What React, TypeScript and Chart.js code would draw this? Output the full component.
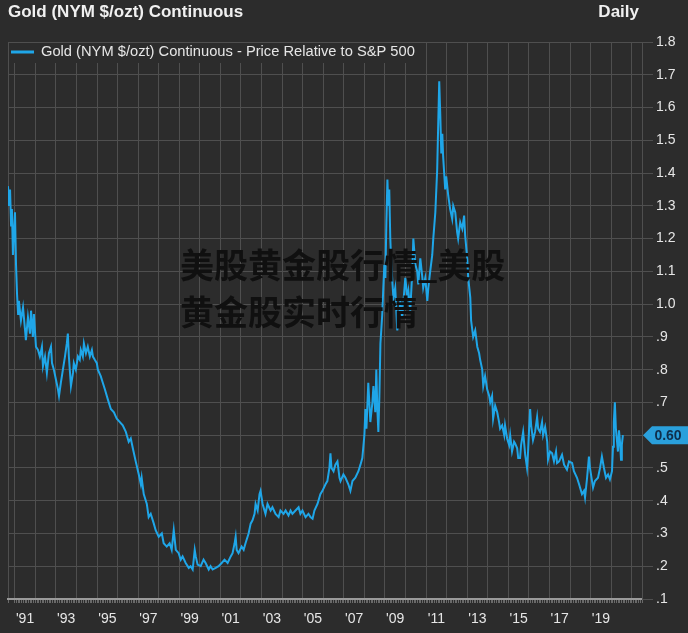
import { useEffect, useRef } from "react";
import { Chart, registerables } from "chart.js";

Chart.register(...registerables);

const chartTitle = "Gold (NYM $/ozt) Continuous";
const frequencyLabel = "Daily";
const seriesName = "Gold (NYM $/ozt) Continuous - Price Relative to S&P 500";
const watermarkLines = ["美股黄金股行情_美股", "黄金股实时行情"];

// decimal-year dates
const dates = [
  1990.67, 1990.72, 1990.77, 1990.82, 1990.86, 1990.91, 1990.96, 1991.01, 1991.06, 1991.11,
  1991.16, 1991.2, 1991.3, 1991.4, 1991.5, 1991.54, 1991.64, 1991.74, 1991.79, 1991.88,
  1991.93, 1992.03, 1992.13, 1992.22, 1992.32, 1992.37, 1992.47, 1992.56, 1992.66, 1992.76,
  1992.81, 1992.9, 1993.0, 1993.1, 1993.15, 1993.24, 1993.34, 1993.44, 1993.53, 1993.58,
  1993.63, 1993.73, 1993.83, 1993.87, 1993.97, 1994.07, 1994.16, 1994.21, 1994.31, 1994.36,
  1994.46, 1994.55, 1994.65, 1994.75, 1994.8, 1994.89, 1994.99, 1995.04, 1995.18, 1995.28,
  1995.38, 1995.52, 1995.67, 1995.82, 1995.96, 1996.11, 1996.25, 1996.4, 1996.54, 1996.64,
  1996.74, 1996.88, 1997.03, 1997.13, 1997.17, 1997.27, 1997.42, 1997.51, 1997.61, 1997.76,
  1997.85, 1998.0, 1998.15, 1998.24, 1998.39, 1998.53, 1998.63, 1998.73, 1998.83, 1998.97,
  1999.07, 1999.16, 1999.31, 1999.46, 1999.55, 1999.65, 1999.75, 1999.8, 1999.89, 2000.04,
  2000.18, 2000.28, 2000.43, 2000.52, 2000.62, 2000.77, 2000.91, 2001.06, 2001.2, 2001.35,
  2001.5, 2001.59, 2001.69, 2001.74, 2001.79, 2001.88, 2002.03, 2002.13, 2002.22, 2002.37,
  2002.47, 2002.56, 2002.66, 2002.71, 2002.81, 2002.9, 2002.95, 2003.05, 2003.19, 2003.29,
  2003.44, 2003.53, 2003.68, 2003.83, 2003.92, 2004.07, 2004.17, 2004.31, 2004.41, 2004.5,
  2004.65, 2004.8, 2004.89, 2004.99, 2005.14, 2005.28, 2005.38, 2005.48, 2005.57, 2005.72,
  2005.86, 2005.96, 2006.11, 2006.2, 2006.3, 2006.35, 2006.4, 2006.5, 2006.59, 2006.69,
  2006.79, 2006.84, 2006.98, 2007.08, 2007.22, 2007.32, 2007.42, 2007.56, 2007.71, 2007.81,
  2007.9, 2008.0, 2008.05, 2008.1, 2008.19, 2008.29, 2008.39, 2008.44, 2008.53, 2008.58,
  2008.63, 2008.68, 2008.73, 2008.78, 2008.87, 2008.92, 2008.97, 2009.02, 2009.07, 2009.12,
  2009.16, 2009.21, 2009.26, 2009.31, 2009.41, 2009.5, 2009.6, 2009.7, 2009.75, 2009.84,
  2009.99, 2010.09, 2010.14, 2010.23, 2010.33, 2010.38, 2010.48, 2010.57, 2010.62, 2010.72,
  2010.82, 2010.86, 2010.96, 2011.06, 2011.11, 2011.2, 2011.3, 2011.35, 2011.45, 2011.54,
  2011.59, 2011.64, 2011.69, 2011.74, 2011.79, 2011.83, 2011.88, 2011.93, 2011.98, 2012.08,
  2012.17, 2012.27, 2012.32, 2012.42, 2012.51, 2012.56, 2012.66, 2012.76, 2012.85, 2012.9,
  2013.0, 2013.05, 2013.15, 2013.19, 2013.29, 2013.39, 2013.49, 2013.58, 2013.63, 2013.73,
  2013.78, 2013.87, 2013.97, 2014.07, 2014.12, 2014.21, 2014.26, 2014.36, 2014.46, 2014.55,
  2014.6, 2014.7, 2014.8, 2014.84, 2014.94, 2015.04, 2015.09, 2015.18, 2015.28, 2015.33,
  2015.43, 2015.48, 2015.57, 2015.62, 2015.72, 2015.82, 2015.91, 2015.96, 2016.01, 2016.06,
  2016.11, 2016.2, 2016.3, 2016.4, 2016.45, 2016.54, 2016.64, 2016.69, 2016.79, 2016.89,
  2016.93, 2017.03, 2017.13, 2017.22, 2017.32, 2017.37, 2017.47, 2017.61, 2017.71, 2017.85,
  2017.95, 2018.1, 2018.19, 2018.34, 2018.44, 2018.58, 2018.68, 2018.73, 2018.83, 2018.92,
  2018.97, 2019.07, 2019.12, 2019.21, 2019.36, 2019.46, 2019.55, 2019.65, 2019.75, 2019.85,
  2019.94, 2020.04, 2020.09, 2020.13, 2020.18, 2020.23, 2020.28, 2020.33, 2020.38, 2020.43,
  2020.48, 2020.52, 2020.57,
];

// gold price relative to S&P 500
const ratio = [
  1.36, 1.3, 1.35, 1.24, 1.29, 1.15, 1.22, 1.28, 1.12, 1.03,
  0.97, 1.01, 0.95, 0.99, 0.92, 0.89, 0.96, 0.91, 0.98, 0.9,
  0.97, 0.87, 0.86, 0.84, 0.87, 0.81, 0.84, 0.79, 0.85, 0.87,
  0.82, 0.8, 0.77, 0.74, 0.72, 0.76, 0.8, 0.84, 0.88, 0.91,
  0.84, 0.75, 0.79, 0.82, 0.8, 0.84, 0.83, 0.86, 0.84, 0.88,
  0.85, 0.87, 0.84, 0.86, 0.84, 0.83, 0.82, 0.8, 0.78, 0.76,
  0.74, 0.71, 0.68, 0.67, 0.65, 0.64, 0.63, 0.61, 0.58, 0.59,
  0.56, 0.52, 0.48, 0.45, 0.47, 0.42, 0.39, 0.35, 0.36, 0.33,
  0.31, 0.29, 0.3, 0.27, 0.26, 0.27, 0.25, 0.31, 0.25, 0.24,
  0.22, 0.23, 0.21, 0.195, 0.2, 0.19, 0.25, 0.23, 0.205, 0.2,
  0.22, 0.21, 0.19, 0.2, 0.19, 0.195, 0.2, 0.21, 0.22, 0.21,
  0.23, 0.24, 0.27, 0.29, 0.25, 0.24, 0.26, 0.25, 0.27, 0.3,
  0.33, 0.34, 0.36, 0.39, 0.37, 0.42, 0.43, 0.39, 0.36, 0.39,
  0.37, 0.38, 0.36, 0.35, 0.37, 0.36, 0.37, 0.355, 0.37, 0.36,
  0.37, 0.38, 0.36, 0.37, 0.35, 0.36, 0.35, 0.345, 0.37, 0.39,
  0.42, 0.43, 0.45, 0.46, 0.5, 0.545, 0.5, 0.49, 0.51, 0.52,
  0.47, 0.46, 0.48, 0.47, 0.45, 0.43, 0.46, 0.47, 0.49, 0.51,
  0.53, 0.6, 0.68, 0.62, 0.76, 0.64, 0.7, 0.75, 0.67, 0.8,
  0.68, 0.61, 0.72, 0.88, 0.97, 1.05, 1.12, 1.08, 1.25, 1.38,
  1.3, 1.35, 1.2, 1.12, 1.02, 1.05, 0.92, 0.97, 1.01, 0.96,
  1.08, 1.02, 1.04, 0.98, 1.1, 1.2, 1.12, 1.1, 1.06, 1.14,
  1.08, 1.05, 1.08, 1.01, 1.05, 1.1, 1.15, 1.2, 1.28, 1.41,
  1.55, 1.68, 1.58, 1.46, 1.52, 1.45, 1.4, 1.35, 1.39, 1.33,
  1.29, 1.26, 1.3, 1.28, 1.22, 1.2, 1.25, 1.23, 1.27, 1.21,
  1.14, 1.08, 1.02, 0.95, 0.9, 0.92, 0.87, 0.85, 0.83, 0.8,
  0.75, 0.78, 0.74, 0.72, 0.7, 0.72, 0.65, 0.69, 0.67, 0.64,
  0.62, 0.63, 0.6, 0.63, 0.59, 0.57, 0.6, 0.55, 0.58, 0.575,
  0.56, 0.53, 0.53, 0.57, 0.61, 0.54, 0.5, 0.55, 0.62, 0.68,
  0.63, 0.585, 0.61, 0.655, 0.62, 0.61, 0.64, 0.6, 0.625, 0.58,
  0.525, 0.55, 0.545, 0.52, 0.55, 0.515, 0.52, 0.54, 0.51, 0.495,
  0.52, 0.515, 0.49, 0.47, 0.45, 0.42, 0.43, 0.41, 0.47, 0.535,
  0.5, 0.46, 0.44, 0.46, 0.47, 0.5, 0.535, 0.5, 0.47, 0.48,
  0.465, 0.49, 0.565, 0.64, 0.7, 0.62, 0.585, 0.55, 0.615, 0.58,
  0.525, 0.57, 0.6,
];

const yTickValues = [0.1, 0.2, 0.3, 0.4, 0.5, 0.6, 0.7, 0.8, 0.9, 1.0, 1.1, 1.2, 1.3, 1.4, 1.5, 1.6, 1.7, 1.8];
const labelYears = [1991, 1993, 1995, 1997, 1999, 2001, 2003, 2005, 2007, 2009, 2011, 2013, 2015, 2017, 2019];
const gridYears = [1991, 1992, 1993, 1994, 1995, 1996, 1997, 1998, 1999, 2000, 2001, 2002, 2003, 2004, 2005, 2006, 2007, 2008, 2009, 2010, 2011, 2012, 2013, 2014, 2015, 2016, 2017, 2018, 2019, 2020];

const X_MIN = 1990.67;
const X_MAX = 2021.5;

const BG = "#2c2c2c";
const GRID = "#4f4f4f";
const LINE = "#1fa6e8";
const TEXT = "#e6e6e6";
const FONT = '"Liberation Sans", Arial, sans-serif';

function isYear(v: number) {
  return Math.abs(v - Math.round(v)) < 1e-6;
}

export default function App() {
  const canvasRef = useRef<HTMLCanvasElement | null>(null);

  useEffect(() => {
    document.body.style.margin = "0";
    document.body.style.background = BG;
    const canvas = canvasRef.current;
    if (!canvas) return;

    const xTicks: number[] = [X_MIN];
    for (const y of gridYears) {
      for (let m = 0; m < 12; m++) {
        const v = y + m / 12;
        if (v <= X_MAX) xTicks.push(v);
      }
    }
    for (let m = 0; m < 7; m++) {
      const v = 2021 + m / 12;
      if (v <= X_MAX) xTicks.push(v);
    }

    const decor = {
      id: "decor",
      beforeDraw(chart: any) {
        const ctx = chart.ctx;
        ctx.save();
        ctx.fillStyle = BG;
        ctx.fillRect(0, 0, chart.width, chart.height);
        ctx.restore();
      },
      afterDraw(chart: any) {
        const ctx = chart.ctx;
        const area = chart.chartArea;
        const yScale = chart.scales.y;
        ctx.save();
        // legend box over grid
        ctx.fillStyle = BG;
        ctx.fillRect(area.left + 1, area.top + 1, 413, 20);
        ctx.strokeStyle = LINE;
        ctx.lineWidth = 3;
        ctx.beginPath();
        ctx.moveTo(11, 52);
        ctx.lineTo(34, 52);
        ctx.stroke();
        ctx.fillStyle = TEXT;
        ctx.font = `14.7px ${FONT}`;
        ctx.textBaseline = "middle";
        ctx.textAlign = "left";
        ctx.fillText(seriesName, 41, 52);

        // title
        ctx.fillStyle = "#f0f0f0";
        ctx.font = `bold 17px ${FONT}`;
        ctx.fillText(chartTitle, 8, 12);
        ctx.textAlign = "right";
        ctx.fillText(frequencyLabel, 639, 12);

        // last value badge
        const last = ratio[ratio.length - 1];
        const by = yScale.getPixelForValue(last);
        const bx = area.right + 1;
        ctx.fillStyle = "#2aa0dc";
        ctx.beginPath();
        ctx.moveTo(bx, by);
        ctx.lineTo(bx + 9, by - 9);
        ctx.lineTo(chart.width, by - 9);
        ctx.lineTo(chart.width, by + 9);
        ctx.lineTo(bx + 9, by + 9);
        ctx.closePath();
        ctx.fill();
        ctx.fillStyle = "#0f2f4c";
        ctx.font = `bold 14px ${FONT}`;
        ctx.textAlign = "center";
        ctx.fillText(last.toFixed(2), 668, by + 1);

        // watermark
        ctx.fillStyle = "#101010";
        ctx.font = `bold 34px "Noto Sans CJK SC", sans-serif`;
        ctx.textAlign = "left";
        ctx.fillText(watermarkLines[0], 180, 265);
        ctx.fillText(watermarkLines[1], 180, 312);
        ctx.restore();
      },
    };

    const chart = new Chart(canvas, {
      type: "line",
      data: {
        datasets: [
          {
            label: seriesName,
            data: dates.map((d, i) => ({ x: d, y: ratio[i] })),
            borderColor: LINE,
            borderWidth: 2,
            pointRadius: 0,
            tension: 0,
            fill: false,
          },
        ],
      },
      options: {
        animation: false,
        responsive: false,
        maintainAspectRatio: false,
        devicePixelRatio: 1,
        layout: { padding: { left: 7, top: 42, right: 0, bottom: 0 } },
        plugins: {
          legend: { display: false },
          title: { display: false },
          tooltip: { enabled: false },
        },
        scales: {
          x: {
            type: "linear",
            position: "bottom",
            min: X_MIN,
            max: X_MAX,
            afterBuildTicks: (scale: any) => {
              scale.ticks = xTicks.map((v) => ({ value: v }));
            },
            afterFit: (scale: any) => {
              scale.height = 34;
            },
            grid: {
              color: (c: any) => {
                const v = c.tick ? c.tick.value : 0;
                return isYear(v) || Math.abs(v - X_MIN) < 1e-6 ? GRID : "rgba(0,0,0,0)";
              },
              tickColor: "#6a6a6a",
              tickLength: 4,
              drawTicks: true,
              lineWidth: 1,
            },
            border: { display: true, color: "#9a9a9a", width: 2 },
            ticks: {
              autoSkip: false,
              maxRotation: 0,
              minRotation: 0,
              padding: 8,
              color: TEXT,
              font: { family: FONT, size: 14 },
              callback: (value: any) => {
                const v = Number(value);
                for (const y of labelYears) {
                  if (Math.abs(v - (y + 0.5)) < 1e-6) return "'" + String(y).slice(2);
                }
                return "";
              },
            },
          },
          y: {
            type: "linear",
            position: "right",
            min: 0.1,
            max: 1.8,
            afterBuildTicks: (scale: any) => {
              scale.ticks = yTickValues.map((v) => ({ value: v }));
            },
            afterFit: (scale: any) => {
              scale.width = 46;
            },
            grid: {
              color: GRID,
              tickColor: GRID,
              tickLength: 11,
              lineWidth: 1,
            },
            border: { display: true, color: GRID },
            ticks: {
              padding: 3,
              color: TEXT,
              font: { family: FONT, size: 14 },
              callback: (value: any) => {
                const v = Number(value);
                if (v >= 0.999) return v.toFixed(1);
                return "." + Math.round(v * 10);
              },
            },
          },
        },
      },
      plugins: [decor],
    });

    return () => chart.destroy();
  }, []);

  return (
    <div style={{ width: 688, height: 633, position: "relative", background: BG }}>
      <canvas ref={canvasRef} width={688} height={633} style={{ display: "block" }} />
    </div>
  );
}
